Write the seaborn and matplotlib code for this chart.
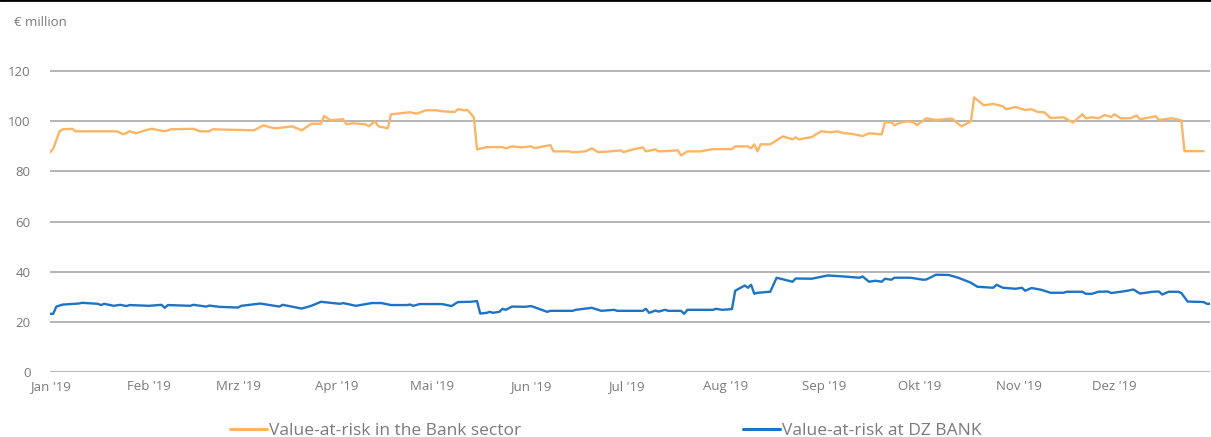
import matplotlib.pyplot as plt
from matplotlib.lines import Line2D
import seaborn as sns
import pandas as pd

# day offsets from 1 Jan 2019 and values (EUR million)
bank_days = [0, 1, 3, 4, 7, 8, 21, 23, 25, 27, 31, 32, 36, 38, 45, 47, 50, 51,
             64, 67, 69, 71, 76, 79, 82, 85, 86, 88, 92, 93, 95, 99, 100, 102,
             103, 106, 107, 113, 115, 118, 121, 123, 127, 128, 130, 131, 133,
             134, 137, 142, 143, 145, 148, 151, 152, 157, 158, 163, 164, 168,
             170, 172, 176, 179, 180, 183, 186, 187, 190, 191, 193, 197, 198,
             200, 204, 208, 214, 215, 219, 220, 221, 222, 223, 226, 230, 233,
             234, 235, 239, 242, 245, 247, 249, 252, 255, 257, 261, 262, 264,
             265, 267, 269, 271, 272, 275, 278, 283, 286, 289, 290, 293, 296,
             299, 300, 303, 306, 308, 310, 312, 314, 318, 321, 324, 325, 327,
             329, 331, 333, 334, 336, 339, 341, 342, 347, 348, 352, 355, 356,
             362]
bank_var = [87.6, 89.0, 96.0, 96.8, 97.0, 96.0, 96.0, 94.8, 96.0, 95.2, 96.8,
            97.0, 96.0, 96.8, 97.0, 96.0, 96.0, 96.8, 96.4, 98.4, 97.6, 97.2,
            98.0, 96.4, 99.0, 99.0, 102.1, 100.4, 100.8, 98.8, 99.2, 98.8,
            98.0, 100.0, 98.0, 97.2, 102.8, 103.6, 103.0, 104.4, 104.4, 104.0,
            103.7, 104.8, 104.4, 104.5, 101.6, 88.8, 89.7, 89.7, 89.2, 90.0,
            89.6, 90.0, 89.3, 90.5, 88.0, 88.0, 87.6, 88.0, 89.2, 87.7, 88.0,
            88.4, 87.7, 88.8, 89.6, 88.0, 88.8, 88.0, 88.1, 88.4, 86.4, 88.0,
            88.0, 88.9, 88.9, 90.0, 90.0, 89.2, 90.8, 88.0, 90.8, 90.8, 94.0,
            92.8, 93.6, 92.8, 93.7, 96.0, 95.6, 96.0, 95.3, 94.9, 94.1, 95.2,
            94.8, 99.6, 99.6, 98.4, 99.5, 100.0, 99.6, 98.4, 101.2, 100.5,
            101.1, 98.0, 100.0, 109.5, 106.4, 106.9, 106.0, 104.8, 105.7,
            104.5, 104.8, 103.7, 103.6, 101.3, 101.6, 99.5, 102.8, 101.2,
            101.6, 101.2, 102.5, 101.7, 102.8, 101.2, 101.2, 102.3, 100.8,
            102.0, 100.5, 101.2, 100.4, 88.1, 88.1]

dz_days = [0, 1, 2, 4, 9, 10, 15, 16, 17, 20, 22, 24, 25, 31, 35, 36, 37, 44,
           45, 49, 50, 53, 59, 60, 66, 72, 73, 79, 82, 85, 91, 92, 96, 101,
           104, 107, 112, 113, 114, 116, 123, 126, 128, 132, 134, 135, 137,
           138, 139, 141, 142, 143, 145, 149, 151, 154, 156, 157, 164, 165,
           170, 173, 177, 178, 186, 187, 188, 190, 191, 193, 194, 198, 199,
           200, 208, 209, 211, 214, 215, 218, 219, 220, 221, 222, 226, 228,
           233, 234, 239, 242, 244, 248, 254, 255, 257, 259, 261, 262, 264,
           265, 270, 274, 275, 278, 282, 285, 289, 291, 296, 297, 299, 303,
           305, 306, 308, 311, 314, 318, 319, 324, 325, 327, 329, 332, 333,
           336, 338, 340, 342, 346, 348, 349, 351, 354, 355, 357, 362, 363,
           364]
dz_var = [23.2, 23.2, 26.1, 26.9, 27.3, 27.6, 27.2, 26.7, 27.2, 26.4, 26.8,
          26.3, 26.7, 26.4, 26.8, 25.6, 26.7, 26.4, 26.8, 26.1, 26.5, 26.0,
          25.7, 26.4, 27.3, 26.1, 26.8, 25.3, 26.4, 28.0, 27.2, 27.5, 26.4,
          27.5, 27.5, 26.7, 26.7, 26.9, 26.4, 27.1, 27.1, 26.3, 27.9, 28.0,
          28.3, 23.3, 23.6, 24.0, 23.6, 24.0, 25.2, 24.8, 26.1, 26.0, 26.3,
          24.9, 24.0, 24.4, 24.4, 24.8, 25.6, 24.4, 24.8, 24.4, 24.4, 25.2,
          23.6, 24.5, 24.1, 24.8, 24.4, 24.4, 23.2, 24.8, 24.8, 25.2, 24.8,
          25.1, 32.4, 34.5, 33.6, 34.8, 31.2, 31.6, 32.0, 37.6, 36.0, 37.3,
          37.2, 38.0, 38.5, 38.2, 37.6, 38.1, 36.0, 36.4, 36.0, 37.2, 36.8,
          37.6, 37.6, 36.8, 36.9, 38.8, 38.7, 37.6, 35.6, 34.0, 33.6, 34.8,
          33.6, 33.2, 33.6, 32.4, 33.5, 32.8, 31.6, 31.6, 32.0, 32.0, 31.2,
          31.2, 32.0, 32.1, 31.5, 32.0, 32.4, 32.9, 31.3, 32.0, 32.1, 30.9,
          32.0, 32.0, 31.5, 28.1, 27.9, 27.2, 27.2]

series_names = ["Value-at-risk in the Bank sector", "Value-at-risk at DZ BANK"]
colors = ["#FDB565", "#1D74C6"]
month_labels = ["Jan '19", "Feb '19", "Mrz '19", "Apr '19", "Mai '19",
                "Jun '19", "Jul '19", "Aug '19", "Sep '19", "Okt '19",
                "Nov '19", "Dez '19"]
y_ticks = [0, 20, 40, 60, 80, 100, 120]


def build_frame() -> pd.DataFrame:
    start = pd.Timestamp("2019-01-01")
    parts = []
    for name, days, vals in [(series_names[0], bank_days, bank_var),
                             (series_names[1], dz_days, dz_var)]:
        parts.append(pd.DataFrame({
            "date": start + pd.to_timedelta(days, unit="D"),
            "value": vals,
            "series": name,
        }))
    return pd.concat(parts, ignore_index=True)


def main() -> None:
    sns.set_style("white")
    plt.rcParams["font.family"] = ["Open Sans", "DejaVu Sans"]
    grey_txt = "#7a7a7a"

    df = build_frame()
    fig = plt.figure(figsize=(12.11, 4.37), dpi=100)
    ax = fig.add_axes([50 / 1211, 65 / 437, 1160 / 1211, 351 / 437])

    sns.lineplot(data=df, x="date", y="value", hue="series",
                 palette=colors, hue_order=series_names, linewidth=1.7,
                 ax=ax, legend=False)

    ax.set_xlim(pd.Timestamp("2019-01-01"), pd.Timestamp("2019-12-31"))
    ax.set_ylim(0, 140)
    ax.set_yticks(y_ticks)
    ax.set_yticklabels([str(t) for t in y_ticks])
    ax.set_xticks(pd.date_range("2019-01-01", periods=12, freq="MS"))
    ax.set_xticklabels(month_labels)

    ax.grid(True, axis="y", color="#a8a8a8", linewidth=1.2)
    ax.set_axisbelow(True)
    for s in ax.spines.values():
        s.set_visible(False)
    ax.tick_params(axis="both", length=0, labelsize=9.5, colors=grey_txt)
    ax.tick_params(axis="y", pad=14)
    ax.tick_params(axis="x", pad=6)
    ax.set_xlabel("")
    ax.set_ylabel("")

    fig.text(14 / 1211, 1 - 22 / 437, "€ million", fontsize=9.5,
             color=grey_txt, va="center", ha="left")
    fig.add_artist(Line2D([0, 1], [0.999, 0.999], color="black",
                          linewidth=2, transform=fig.transFigure))

    handles = [Line2D([], [], color=c, linewidth=2.2) for c in colors]
    leg = fig.legend(handles, series_names, loc="center",
                     bbox_to_anchor=(606 / 1211, 1 - 431 / 437), ncol=2,
                     frameon=False, fontsize=12.5, handlelength=2.1,
                     handletextpad=0.12, columnspacing=12.8)
    for t in leg.get_texts():
        t.set_color(grey_txt)

    fig.savefig("out.png", dpi=100)


if __name__ == "__main__":
    main()
